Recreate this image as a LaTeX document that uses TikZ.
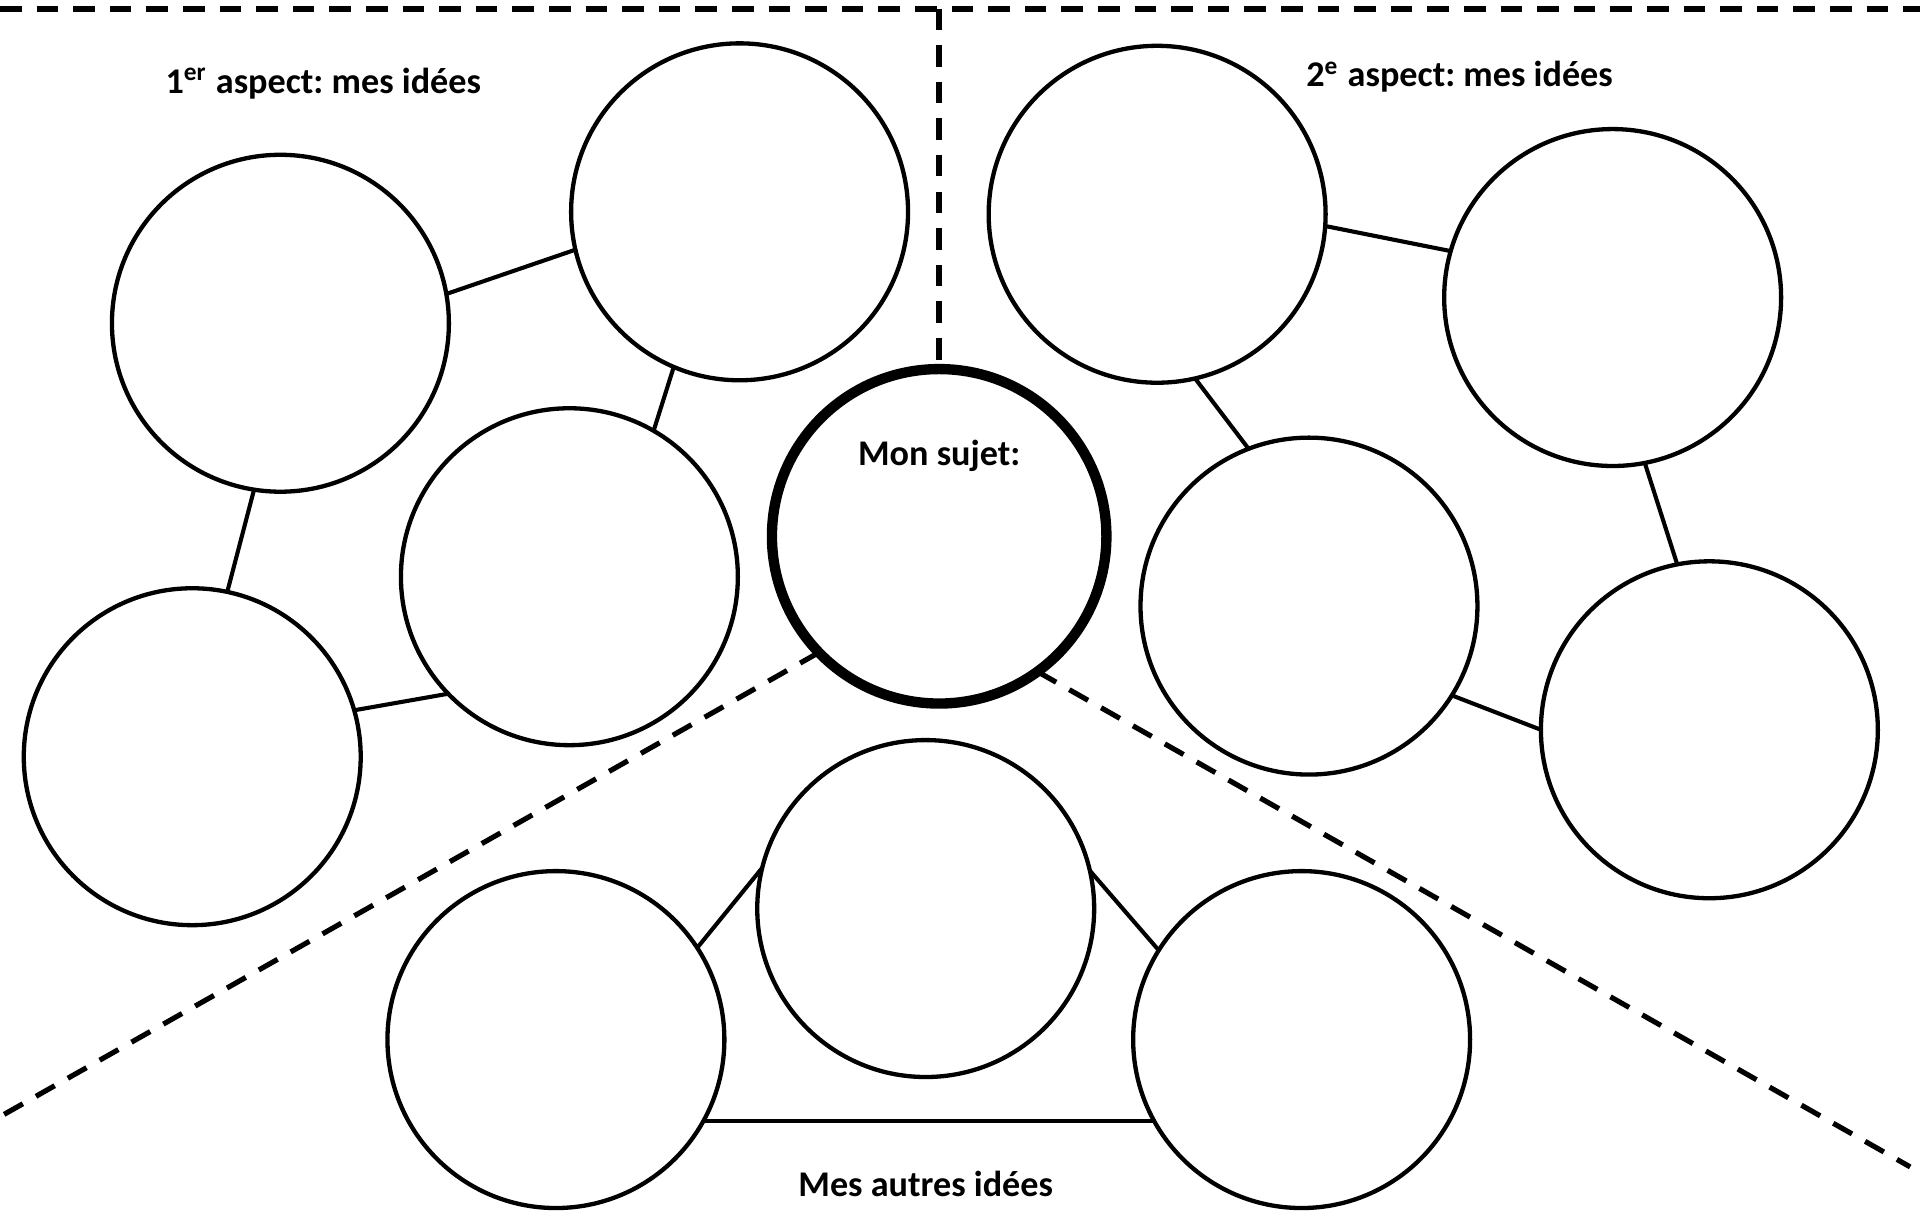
\documentclass[tikz,border=0pt]{standalone}
\usepackage{fontspec}
\setmainfont{Carlito}
\frenchspacing
\begin{document}
\begin{tikzpicture}[x=0.01cm,y=-0.01cm,
  idea/.style={circle,draw,line width=1pt,minimum size=2.75cm,inner sep=0pt,outer sep=0pt},
  subject/.style={idea,line width=2.4pt,minimum size=2.73cm},
  link/.style={line width=0.95pt},
  sepline/.style={line width=1.4pt,dash pattern=on 5pt off 3.5pt},
  lbl/.style={font=\bfseries\fontsize{8.4}{10}\selectfont,anchor=base,inner sep=0pt}]
\useasboundingbox (0,0) rectangle (1568,1000.4);

% circles
\node[idea] (c1) at (229,264) {};
\node[idea] (c2) at (604,173) {};
\node[idea] (c3) at (465,471) {};
\node[idea] (c4) at (157,618) {};
\node[subject] (c5) at (767,438) {};
\node[idea] (c6) at (945,175) {};
\node[idea] (c7) at (1317,243) {};
\node[idea] (c8) at (1069,495) {};
\node[idea] (c9) at (1396,596) {};
\node[idea] (c10) at (756,742) {};
\node[idea] (c11) at (454,849) {};
\node[idea] (c12) at (1063,849) {};

% connectors
\draw[link] (c1.10.6) -- (c2.193.4);
\draw[link] (c2.247) -- (c3.60.9);
\draw[link] (c1.261.5) -- (c4.78);
\draw[link] (c4.16) -- (c3.224.4);
\draw[link] (c6.-4.9) -- (c7.164.8);
\draw[link] (c6.-77) -- (c8.111.3);
\draw[link] (c7.-79.7) -- (c9.101);
\draw[link] (c8.-32.3) -- (c9.180);
\draw[link] (c10.166) -- (c11.33.9);
\draw[link] (c10.13.1) -- (c12.148);
\draw[link] (c11.-29) -- (c12.209);

% dashed separators
\coordinate (tl) at (0,7);
\coordinate (tr) at (1568,7);
\coordinate (tm) at (767,7);
\coordinate (bl) at (0,912);
\coordinate (br) at (1560,953);
\draw[sepline] (tl) -- (tr);
\draw[sepline] (tm) -- (c5.north);
\draw[sepline,line width=1.2pt] (c5.224.7) -- (bl);
\draw[sepline,line width=1.2pt] (c5.-54.6) -- (br);

% labels
\node[lbl] (t1) at (264,76) {1\textsuperscript{er} aspect: mes idées};
\node[lbl] (t2) at (1192,71) {2\textsuperscript{e} aspect: mes idées};
\node[lbl] (t5) at (767,380) {Mon sujet:};
\node[lbl] (t6) at (756,977) {Mes autres idées};
\end{tikzpicture}
\end{document}
